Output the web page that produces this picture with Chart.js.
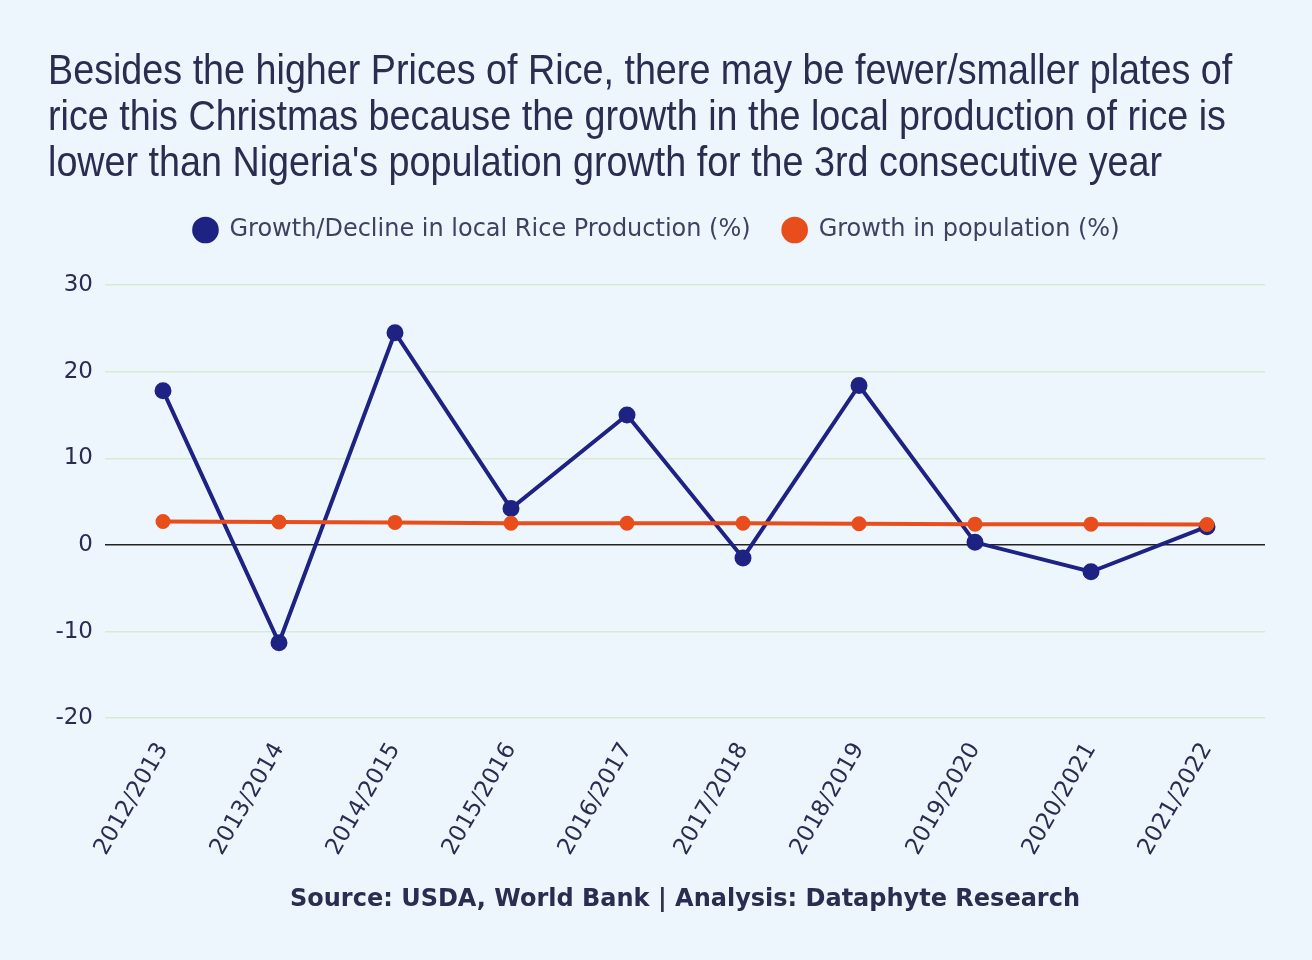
<!DOCTYPE html>
<html>
<head>
<meta charset="utf-8">
<script src="https://cdn.jsdelivr.net/npm/chart.js@4"></script>
<style>
    html, body { margin: 0; padding: 0; background: #eef6fd; }
    #wrap { width: 1312px; height: 960px; position: relative; }
    #title {
        position: absolute; left: 48px; top: 46px;
        font-family: "Liberation Sans", Arial, sans-serif;
        font-size: 43px; line-height: 46px; color: #2b2d50;
        white-space: nowrap;
        transform: scaleX(0.877); transform-origin: left top;
    }
</style>
</head>
<body>
<div id="wrap">
    <canvas id="riceChart" width="1312" height="960"></canvas>
    <div id="title"></div>
</div>
<script>
// Données
const seasons = ['2012/2013', '2013/2014', '2014/2015', '2015/2016', '2016/2017',
                 '2017/2018', '2018/2019', '2019/2020', '2020/2021', '2021/2022'];
const riceGrowth = [17.8, -11.3, 24.5, 4.2, 15.0, -1.5, 18.4, 0.3, -3.1, 2.1];
const popGrowth = [2.7, 2.65, 2.6, 2.5, 2.5, 2.5, 2.45, 2.4, 2.4, 2.35];
const yTicks = [-20, -10, 0, 10, 20, 30];

const titleLines = [
    'Besides the higher Prices of Rice, there may be fewer/smaller plates of',
    'rice this Christmas because the growth in the local production of rice is',
    "lower than Nigeria's population growth for the 3rd consecutive year"
];
const sourceText = 'Source: USDA, World Bank | Analysis: Dataphyte Research';

const textColor = '#2b2d50';
const navy = '#1e2283';
const orange = '#e84e1b';
const font = '"DejaVu Sans", Verdana, sans-serif';

// Espace sous la légende
const legendGap = {
    id: 'legendGap',
    afterInit: function(chart) {
        const fit = chart.legend.fit;
        chart.legend.fit = function() {
            fit.call(this);
            this.height += 33;
        };
    }
};

document.addEventListener('DOMContentLoaded', function() {
    document.getElementById('title').innerHTML = titleLines.join('<br>');

    const ctx = document.getElementById('riceChart').getContext('2d');

    new Chart(ctx, {
        type: 'line',
        data: {
            labels: seasons,
            datasets: [{
                label: 'Growth/Decline in local Rice Production (%)',
                data: riceGrowth,
                borderColor: navy,
                backgroundColor: navy,
                borderWidth: 4,
                pointRadius: 6.5,
                tension: 0,
                order: 2
            }, {
                label: 'Growth in population (%)',
                data: popGrowth,
                borderColor: orange,
                backgroundColor: orange,
                borderWidth: 4,
                pointRadius: 5.5,
                tension: 0,
                order: 1
            }]
        },
        plugins: [legendGap],
        options: {
            responsive: false,
            animation: false,
            layout: {
                padding: { left: 48, right: 47, top: 186, bottom: 46 }
            },
            plugins: {
                title: { display: false },
                subtitle: {
                    display: true,
                    position: 'bottom',
                    fullSize: false,
                    text: sourceText,
                    color: textColor,
                    font: { family: font, size: 24, weight: 'bold', lineHeight: 1.2 },
                    padding: { top: 17, bottom: 0 }
                },
                legend: {
                    labels: {
                        usePointStyle: true,
                        pointStyle: 'circle',
                        boxWidth: 24,
                        boxHeight: 16,
                        padding: 32,
                        color: '#3d4260',
                        font: { family: font, size: 24 },
                        sort: function(a, b) { return a.datasetIndex - b.datasetIndex; }
                    }
                },
                tooltip: { enabled: false }
            },
            scales: {
                x: {
                    offset: true,
                    afterFit: function(axis) {
                        axis.height = 150;
                    },
                    grid: { display: false, drawTicks: false },
                    border: { display: false },
                    ticks: {
                        color: textColor,
                        maxRotation: 60,
                        minRotation: 60,
                        padding: 20,
                        font: { family: font, size: 23 }
                    }
                },
                y: {
                    min: -20,
                    max: 30,
                    afterBuildTicks: function(axis) {
                        axis.ticks = yTicks.map(v => ({ value: v }));
                    },
                    afterFit: function(axis) {
                        axis.width = 57;
                    },
                    border: { display: false },
                    grid: {
                        drawTicks: false,
                        color: function(c) {
                            return c.tick && c.tick.value === 0 ? '#222222' : '#d6ebd3';
                        },
                        lineWidth: 1.5
                    },
                    ticks: {
                        color: textColor,
                        padding: 12,
                        font: { family: font, size: 23 }
                    }
                }
            }
        }
    });
});
</script>
</body>
</html>
